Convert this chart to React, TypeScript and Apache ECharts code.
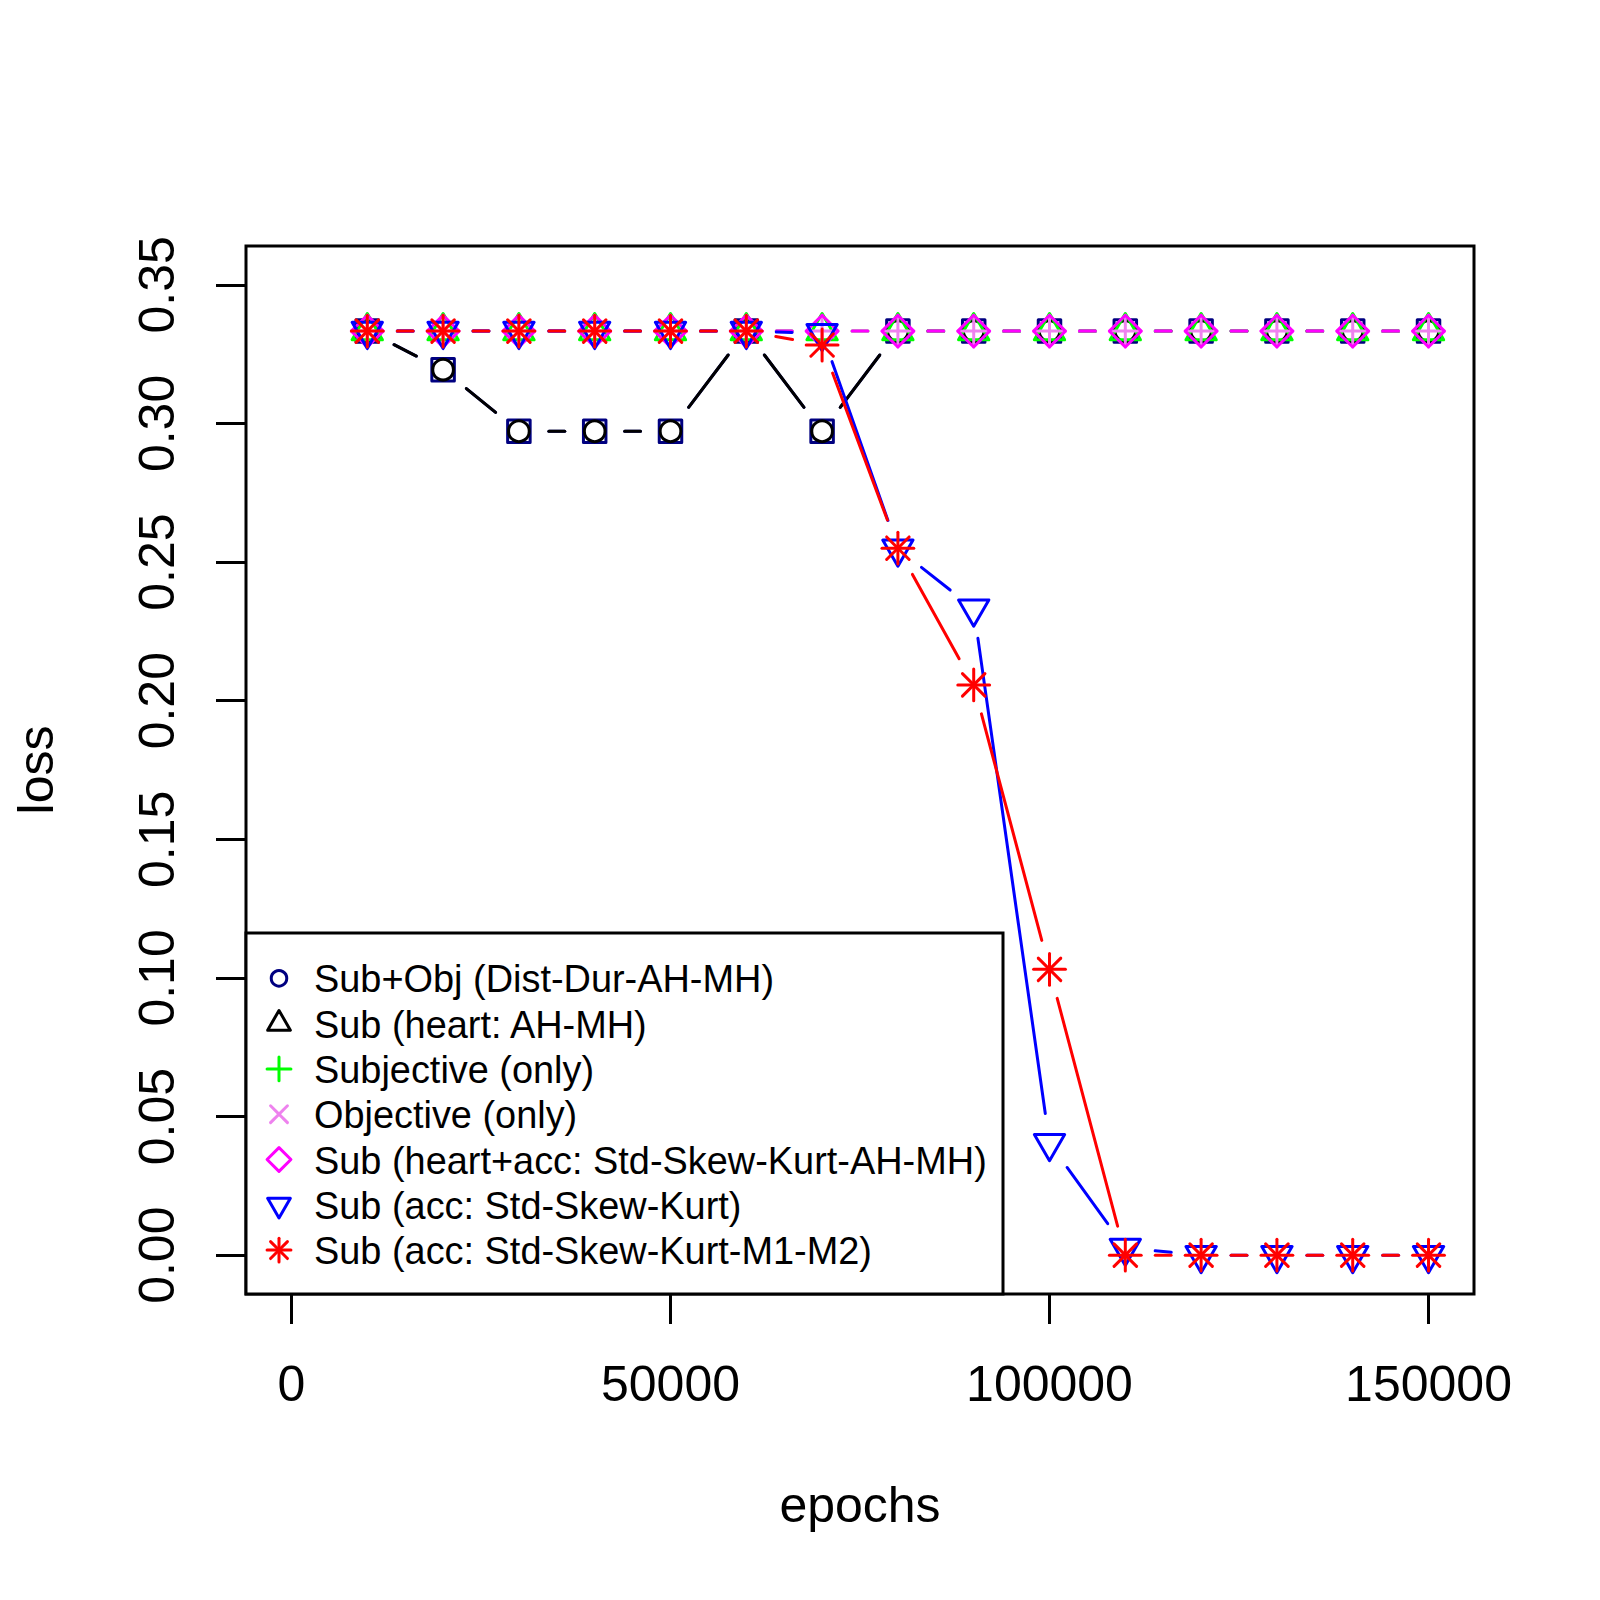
import React, { useEffect, useRef } from 'react';
import * as echarts from 'echarts';

// ---------------- data ----------------
const epochs = [10000, 20000, 30000, 40000, 50000, 60000, 70000, 80000, 90000, 100000, 110000, 120000, 130000, 140000, 150000];
const subObj = [0.3333, 0.3194, 0.2972, 0.2972, 0.2972, 0.3333, 0.2972, 0.3333, 0.3333, 0.3333, 0.3333, 0.3333, 0.3333, 0.3333, 0.3333];
const subHeart = [0.3333, 0.3194, 0.2972, 0.2972, 0.2972, 0.3333, 0.2972, 0.3333, 0.3333, 0.3333, 0.3333, 0.3333, 0.3333, 0.3333, 0.3333];
const subjectiveOnly = [0.3333, 0.3333, 0.3333, 0.3333, 0.3333, 0.3333, 0.3333, 0.3333, 0.3333, 0.3333, 0.3333, 0.3333, 0.3333, 0.3333, 0.3333];
const objectiveOnly = [0.3333, 0.3333, 0.3333, 0.3333, 0.3333, 0.3333, 0.3333, 0.3333, 0.3333, 0.3333, 0.3333, 0.3333, 0.3333, 0.3333, 0.3333];
const subHeartAcc = [0.3333, 0.3333, 0.3333, 0.3333, 0.3333, 0.3333, 0.3333, 0.3333, 0.3333, 0.3333, 0.3333, 0.3333, 0.3333, 0.3333, 0.3333];
const subAcc = [0.3333, 0.3333, 0.3333, 0.3333, 0.3333, 0.3333, 0.3325, 0.2548, 0.2332, 0.0404, 0.0026, 0.0, 0.0, 0.0, 0.0];
const subAccM = [0.3333, 0.3333, 0.3333, 0.3333, 0.3333, 0.3333, 0.3283, 0.2550, 0.2057, 0.1031, 0.0, 0.0, 0.0, 0.0, 0.0];

const xTicks = [0, 50000, 100000, 150000];
const yTicks = [0, 0.05, 0.1, 0.15, 0.2, 0.25, 0.3, 0.35];

const legendLabels = [
  'Sub+Obj (Dist-Dur-AH-MH)',
  'Sub (heart: AH-MH)',
  'Subjective (only)',
  'Objective (only)',
  'Sub (heart+acc: Std-Skew-Kurt-AH-MH)',
  'Sub (acc: Std-Skew-Kurt)',
  'Sub (acc: Std-Skew-Kurt-M1-M2)',
];
const seriesColors = ['#000080', '#000000', '#00FF00', '#EE82EE', '#FF00FF', '#0000FF', '#FF0000'];
const plotMarkers = ['square', 'circle', 'triangle', 'plus', 'diamond', 'triangleDown', 'asterisk'];
const legendMarkers = ['circle', 'triangle', 'plus', 'cross', 'diamond', 'triangleDown', 'asterisk'];
const seriesValues = [subObj, subHeart, subjectiveOnly, objectiveOnly, subHeartAcc, subAcc, subAccM];

// ---------------- style ----------------
const FONT = '"Liberation Sans", Arial, Helvetica, sans-serif';
const LW = 3;
const GAP = 30;
const RAD = 11.25;

function markerShapes(kind: string, cx: number, cy: number, s: number, color: string, z?: number): any[] {
  const xc = RAD * s;
  const mkStyle = () => ({ fill: 'none', stroke: color, lineWidth: LW, lineCap: 'round', lineJoin: 'round' });
  const withZ = (el: any) => (z !== undefined ? { ...el, z } : el);
  const ln = (x1: number, y1: number, x2: number, y2: number) =>
    withZ({
      type: 'line',
      shape: { x1: cx + x1, y1: cy + y1, x2: cx + x2, y2: cy + y2 },
      style: mkStyle(),
    });
  const r2 = Math.SQRT2 * xc;
  switch (kind) {
    case 'square': {
      const h = xc * 1.0;
      return [withZ({ type: 'rect', shape: { x: cx - h, y: cy - h, width: 2 * h, height: 2 * h }, style: mkStyle() })];
    }
    case 'circle':
      return [withZ({ type: 'circle', shape: { cx, cy, r: xc * 0.92 }, style: mkStyle() })];
    case 'triangle': {
      const r = 1.5551 * xc, hw = 1.3468 * xc, b = 0.7776 * xc;
      return [withZ({ type: 'polygon', shape: { points: [[cx, cy - r], [cx + hw, cy + b], [cx - hw, cy + b]] }, style: mkStyle() })];
    }
    case 'triangleDown': {
      const r = 1.5551 * xc, hw = 1.3468 * xc, b = 0.7776 * xc;
      return [withZ({ type: 'polygon', shape: { points: [[cx, cy + r], [cx + hw, cy - b], [cx - hw, cy - b]] }, style: mkStyle() })];
    }
    case 'plus':
      return [ln(-r2, 0, r2, 0), ln(0, -r2, 0, r2)];
    case 'cross':
      return [ln(-xc, -xc, xc, xc), ln(-xc, xc, xc, -xc)];
    case 'diamond':
      return [withZ({ type: 'polygon', shape: { points: [[cx, cy - r2], [cx + r2, cy], [cx, cy + r2], [cx - r2, cy]] }, style: mkStyle() })];
    case 'asterisk':
      return [ln(-xc, -xc, xc, xc), ln(-xc, xc, xc, -xc), ln(-r2, 0, r2, 0), ln(0, -r2, 0, r2)];
    default:
      return [];
  }
}

function makeSeries(k: number): any {
  const values = seriesValues[k];
  const color = seriesColors[k];
  const marker = plotMarkers[k];
  return {
    type: 'custom',
    name: legendLabels[k],
    data: epochs.map((x, i) => [x, values[i]]),
    encode: { x: 0, y: 1 },
    silent: true,
    clip: false,
    renderItem: (params: any, api: any) => {
      const i = params.dataIndex;
      const p = api.coord([api.value(0), api.value(1)]);
      const children: any[] = [];
      if (i > 0) {
        const q = api.coord([epochs[i - 1], values[i - 1]]);
        const dx = p[0] - q[0];
        const dy = p[1] - q[1];
        const f = Math.hypot(dx, dy);
        if (f > 2 * GAP) {
          const ux = (dx / f) * GAP;
          const uy = (dy / f) * GAP;
          children.push({
            type: 'line',
            shape: { x1: q[0] + ux, y1: q[1] + uy, x2: p[0] - ux, y2: p[1] - uy },
            style: { stroke: color, lineWidth: LW, lineCap: 'round' },
          });
        }
      }
      children.push(...markerShapes(marker, p[0], p[1], 1, color));
      return { type: 'group', children };
    },
  };
}

// legend layout (R "bottomleft" legend)
const LEG_X = 246, LEG_Y = 933, LEG_W = 757, LEG_H = 361;
const LEG_ROW0 = 978.3, LEG_STEP = 45.3, LEG_SYM_X = 279, LEG_TXT_X = 314;

function legendGraphic(): any[] {
  const els: any[] = [
    {
      type: 'rect',
      shape: { x: LEG_X, y: LEG_Y, width: LEG_W, height: LEG_H },
      style: { fill: '#ffffff', stroke: '#000000', lineWidth: LW },
      z: 100,
    },
  ];
  legendLabels.forEach((lab, i) => {
    const cy = LEG_ROW0 + LEG_STEP * i;
    els.push(...markerShapes(legendMarkers[i], LEG_SYM_X, cy, 0.75, seriesColors[i], 101));
    els.push({
      type: 'text',
      z: 101,
      x: LEG_TXT_X,
      y: cy + 1,
      style: { text: lab, fontSize: 37.9, fontFamily: FONT, fill: '#000000', align: 'left', verticalAlign: 'middle' },
    });
  });
  return els;
}

export default function App() {
  const ref = useRef<HTMLDivElement>(null);
  useEffect(() => {
    if (!ref.current) return;
    const chart = echarts.init(ref.current, undefined, { renderer: 'svg' });
    const axisText = { fontSize: 50, fontFamily: FONT, color: '#000000' };
    chart.setOption({
      animation: false,
      backgroundColor: '#ffffff',
      grid: {
        left: 246,
        right: 126,
        top: 246,
        bottom: 306,
        show: true,
        borderColor: '#000000',
        borderWidth: LW,
        backgroundColor: 'transparent',
        containLabel: false,
      },
      xAxis: {
        type: 'value',
        min: -6000,
        max: 156000,
        name: 'epochs',
        nameLocation: 'middle',
        nameGap: 186,
        nameTextStyle: axisText,
        axisLine: { show: false, onZero: false },
        splitLine: { show: false },
        axisTick: { show: true, customValues: xTicks, length: 30, inside: false, lineStyle: { color: '#000000', width: LW } },
        axisLabel: { customValues: xTicks, margin: 65, formatter: (v: number) => String(v), ...axisText },
      },
      yAxis: {
        type: 'value',
        min: -0.014,
        max: 0.364,
        name: 'loss',
        nameLocation: 'middle',
        nameGap: 185,
        nameTextStyle: axisText,
        axisLine: { show: false, onZero: false },
        splitLine: { show: false },
        axisTick: { show: true, customValues: yTicks, length: 30, inside: false, lineStyle: { color: '#000000', width: LW } },
        axisLabel: { customValues: yTicks, margin: 64, rotate: 90, formatter: (v: number) => v.toFixed(2), ...axisText },
      },
      series: seriesValues.map((_, k) => makeSeries(k)),
      graphic: legendGraphic(),
    });
    return () => chart.dispose();
  }, []);
  return <div ref={ref} style={{ position: 'absolute', left: 0, top: 0, width: 1600, height: 1600 }} />;
}
